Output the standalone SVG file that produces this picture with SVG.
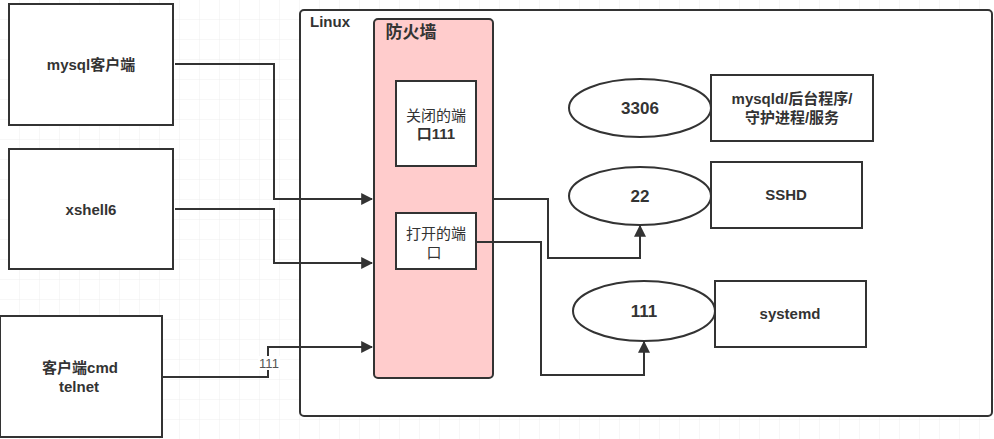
<svg xmlns="http://www.w3.org/2000/svg" width="994" height="439" viewBox="0 0 994 439">
<style>
text{font-family:"Liberation Sans","Noto Sans CJK SC",sans-serif;font-weight:bold;fill:#333;text-anchor:middle;font-size:15px}
text.n{font-weight:normal}
.b{fill:#fff;stroke:#333;stroke-width:2}
.c{fill:none;stroke:#333;stroke-width:2}
</style>
<defs>
<pattern id="g" width="20" height="20" patternUnits="userSpaceOnUse"><path d="M20 0V20H0" fill="none" stroke="#eee" stroke-width="1"/></pattern>
<marker id="a" viewBox="0 0 10 10" refX="9" refY="5" markerWidth="6" markerHeight="6" orient="auto"><path d="M0 0L10 5L0 10z" fill="#333"/></marker>
</defs>
<rect width="994" height="439" fill="#fff"/>
<rect width="994" height="439" fill="url(#g)"/>
<g id="linux"><rect x="300" y="10" width="692" height="406" rx="4" class="b"/><text x="330" y="27">Linux</text></g>
<g id="firewall"><rect x="374" y="19" width="119" height="359" rx="4" fill="#ffcccc" stroke="#333" stroke-width="2"/><text x="411" y="38" style="font-size:17px">防火墙</text></g>
<g id="mysql"><rect x="9" y="4" width="164" height="121" class="b"/><text x="91" y="70">mysql客户端</text></g>
<g id="xshell"><rect x="9" y="149" width="164" height="120" class="b"/><text x="91" y="215">xshell6</text></g>
<g id="cmd"><rect x="0" y="316" width="162" height="121" class="b"/><text x="80" y="373">客户端cmd</text><text x="79" y="392">telnet</text></g>
<g id="closed"><rect x="396" y="81" width="80" height="85" class="b"/><text x="436" y="121" class="n">关闭的端</text><text x="436" y="139">口111</text></g>
<g id="open"><rect x="396" y="213" width="80" height="56" class="b"/><text x="436" y="239" class="n">打开的端</text><text x="434" y="258" class="n">口</text></g>
<g id="e3306"><ellipse cx="640" cy="108" rx="71" ry="29" class="b"/><text x="640" y="114" style="font-size:17px">3306</text></g>
<g id="e22"><ellipse cx="640" cy="196" rx="71" ry="29" class="b"/><text x="640" y="202" style="font-size:17px">22</text></g>
<g id="e111"><ellipse cx="644" cy="311" rx="71" ry="30" class="b"/><text x="644" y="317" style="font-size:17px">111</text></g>
<g id="mysqld"><rect x="711" y="75" width="162" height="66" class="b"/><text x="792" y="104">mysqld/后台程序/</text><text x="792" y="123">守护进程/服务</text></g>
<g id="sshd"><rect x="711" y="162" width="151" height="66" class="b"/><text x="786" y="200">SSHD</text></g>
<g id="systemd"><rect x="715" y="281" width="151" height="66" class="b"/><text x="790" y="319">systemd</text></g>
<g id="connectors">
<path class="c" marker-end="url(#a)" d="M175 64H274V199H372"/>
<path class="c" marker-end="url(#a)" d="M175 209H274V263H372"/>
<path class="c" marker-end="url(#a)" d="M163 377H268V347H372"/>
<rect x="258" y="356" width="22" height="14" fill="#fff"/>
<text x="269" y="368" class="n" style="font-size:13px;fill:#555">111</text>
<path class="c" marker-end="url(#a)" d="M493 199H548V258H640V226"/>
<path class="c" marker-end="url(#a)" d="M476 242H541V375H644V342"/>
</g>
</svg>
